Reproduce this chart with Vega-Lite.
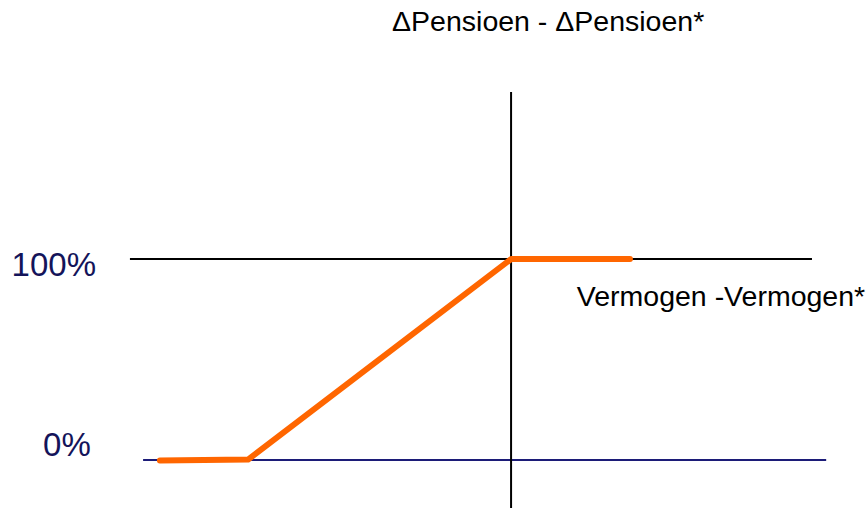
{
  "$schema": "https://vega.github.io/schema/vega-lite/v6.json",
  "width": 868,
  "height": 509,
  "autosize": {"type": "fit", "contains": "padding"},
  "padding": 0,
  "background": "white",
  "config": {"view": {"stroke": null}},
  "datasets": {
    "rules": [
      {"name": "100% lijn", "x": -144.9, "x2": 114.4, "y": 100, "y2": 100},
      {"name": "0% lijn", "x": -139.9, "x2": 119.8, "y": 0, "y2": 0},
      {"name": "verticale as", "x": 0, "x2": 0, "y": 183.1, "y2": -23.9}
    ],
    "curve": [
      {"vermogen": -133.5, "pensioen": -0.3},
      {"vermogen": -100, "pensioen": 0.2},
      {"vermogen": 0, "pensioen": 100},
      {"vermogen": 45.2, "pensioen": 100}
    ],
    "ylabels": [
      {"label": "100%", "x": -157.8, "y": 96.5},
      {"label": "0%", "x": -159.8, "y": 7}
    ],
    "titles": [
      {"label": "ΔPensioen - ΔPensioen*", "x": 14.1, "y": 217.9},
      {"label": "Vermogen -Vermogen*", "x": 79.8, "y": 81.1}
    ]
  },
  "layer": [
    {
      "data": {"name": "rules"},
      "mark": {"type": "rule", "strokeWidth": 2},
      "encoding": {
        "x": {"field": "x", "type": "quantitative", "scale": {"domain": [-194.3, 135.7], "nice": false, "zero": false}, "axis": null},
        "x2": {"field": "x2"},
        "y": {"field": "y", "type": "quantitative", "scale": {"domain": [-24.4, 228.9], "nice": false, "zero": false}, "axis": null},
        "y2": {"field": "y2"},
        "color": {"field": "name", "type": "nominal", "scale": {"domain": ["100% lijn", "0% lijn", "verticale as"], "range": ["#000000", "#1c1c78", "#000000"]}, "legend": null}
      }
    },
    {
      "data": {"name": "curve"},
      "mark": {"type": "line", "color": "#ff6600", "strokeWidth": 6, "strokeCap": "round", "strokeJoin": "round"},
      "encoding": {
        "x": {"field": "vermogen", "type": "quantitative"},
        "y": {"field": "pensioen", "type": "quantitative"}
      }
    },
    {
      "data": {"name": "ylabels"},
      "mark": {"type": "text", "align": "right", "baseline": "middle", "font": "Liberation Sans", "fontSize": 33, "color": "#14145a"},
      "encoding": {
        "x": {"field": "x", "type": "quantitative"},
        "y": {"field": "y", "type": "quantitative"},
        "text": {"field": "label"}
      }
    },
    {
      "data": {"name": "titles"},
      "mark": {"type": "text", "align": "center", "baseline": "middle", "font": "Liberation Sans", "fontSize": 28.5, "color": "#000000"},
      "encoding": {
        "x": {"field": "x", "type": "quantitative"},
        "y": {"field": "y", "type": "quantitative"},
        "text": {"field": "label"}
      }
    }
  ]
}
